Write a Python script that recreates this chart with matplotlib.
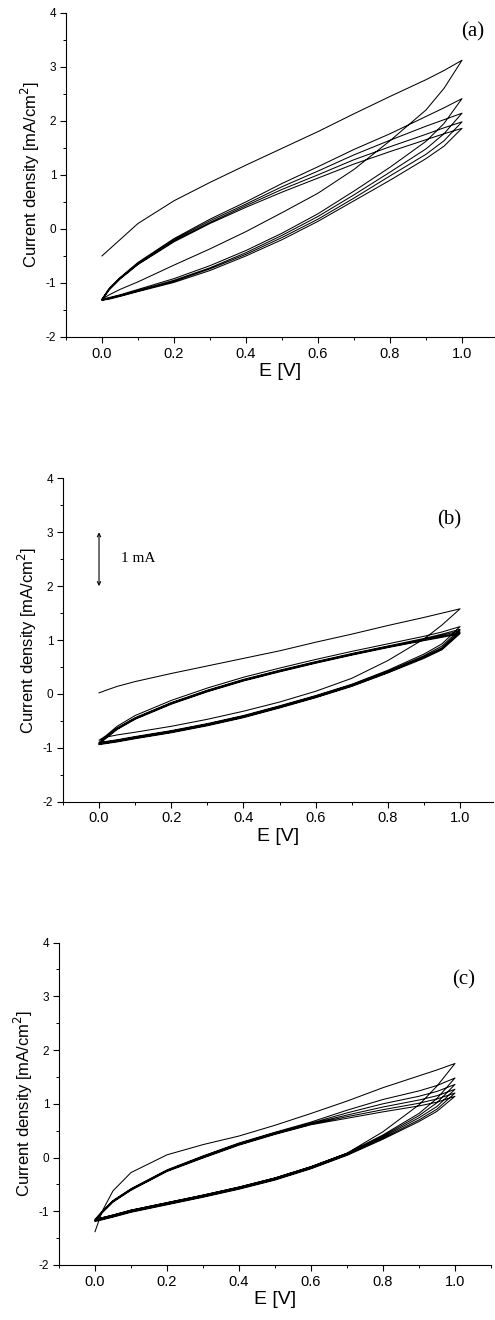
import matplotlib
matplotlib.use("Agg")
import matplotlib.pyplot as plt
from matplotlib.ticker import MultipleLocator, FormatStrFormatter

plt.rcParams['font.family'] = ['Liberation Sans', 'DejaVu Sans']
plt.rcParams['axes.unicode_minus'] = False

# potential grid (V) on which every sweep was read
E_GRID = [0.0, 0.02, 0.05, 0.1, 0.2, 0.3, 0.4, 0.5, 0.6, 0.7, 0.8, 0.9, 0.95, 1.0]

# panel (a): anodic (forward) and cathodic (return) branches, one list per cycle
a_anodic = [
    [-0.5, -0.38, -0.2, 0.1, 0.52, 0.86, 1.18, 1.49, 1.8, 2.13, 2.45, 2.76, 2.93, 3.12],
    [-1.3, -1.1, -0.9, -0.62, -0.18, 0.18, 0.5, 0.84, 1.15, 1.47, 1.76, 2.08, 2.24, 2.41],
    [-1.3, -1.11, -0.91, -0.64, -0.2, 0.15, 0.46, 0.78, 1.07, 1.37, 1.64, 1.9, 2.02, 2.14],
    [-1.31, -1.12, -0.92, -0.65, -0.22, 0.12, 0.43, 0.73, 1.0, 1.28, 1.52, 1.75, 1.87, 1.98],
    [-1.32, -1.13, -0.93, -0.66, -0.24, 0.1, 0.4, 0.68, 0.94, 1.2, 1.43, 1.65, 1.76, 1.86],
]
a_cathodic = [
    [-1.3, -1.22, -1.12, -0.98, -0.67, -0.37, -0.05, 0.3, 0.66, 1.1, 1.63, 2.2, 2.6, 3.12],
    [-1.3, -1.27, -1.22, -1.12, -0.92, -0.68, -0.4, -0.08, 0.28, 0.7, 1.14, 1.62, 1.95, 2.41],
    [-1.31, -1.28, -1.23, -1.14, -0.95, -0.72, -0.44, -0.12, 0.23, 0.63, 1.05, 1.48, 1.76, 2.14],
    [-1.32, -1.29, -1.24, -1.15, -0.97, -0.74, -0.47, -0.16, 0.18, 0.57, 0.98, 1.38, 1.63, 1.98],
    [-1.32, -1.3, -1.25, -1.16, -0.99, -0.77, -0.5, -0.2, 0.14, 0.52, 0.9, 1.3, 1.53, 1.86],
]

# panel (b)
b_anodic = [
    [0.02, 0.07, 0.14, 0.23, 0.38, 0.52, 0.66, 0.8, 0.96, 1.11, 1.27, 1.42, 1.5, 1.58],
    [-0.86, -0.77, -0.6, -0.4, -0.12, 0.11, 0.31, 0.48, 0.64, 0.79, 0.93, 1.07, 1.15, 1.25],
    [-0.9, -0.79, -0.63, -0.44, -0.16, 0.07, 0.27, 0.44, 0.6, 0.75, 0.89, 1.03, 1.11, 1.2],
    [-0.91, -0.8, -0.64, -0.45, -0.17, 0.06, 0.26, 0.43, 0.59, 0.74, 0.88, 1.01, 1.09, 1.17],
    [-0.92, -0.81, -0.65, -0.46, -0.18, 0.05, 0.25, 0.42, 0.58, 0.73, 0.87, 1.0, 1.07, 1.14],
    [-0.93, -0.82, -0.66, -0.47, -0.19, 0.04, 0.24, 0.41, 0.57, 0.72, 0.86, 0.99, 1.05, 1.12],
]
b_cathodic = [
    [-0.86, -0.8, -0.76, -0.71, -0.6, -0.47, -0.32, -0.15, 0.05, 0.29, 0.62, 1.02, 1.28, 1.58],
    [-0.9, -0.88, -0.85, -0.79, -0.68, -0.55, -0.4, -0.22, -0.03, 0.18, 0.44, 0.74, 0.93, 1.25],
    [-0.91, -0.89, -0.86, -0.8, -0.69, -0.56, -0.41, -0.23, -0.04, 0.17, 0.42, 0.71, 0.89, 1.2],
    [-0.92, -0.9, -0.87, -0.81, -0.7, -0.57, -0.42, -0.24, -0.05, 0.16, 0.41, 0.69, 0.86, 1.17],
    [-0.93, -0.91, -0.88, -0.82, -0.71, -0.58, -0.43, -0.25, -0.06, 0.15, 0.4, 0.68, 0.84, 1.14],
    [-0.94, -0.92, -0.89, -0.83, -0.72, -0.59, -0.44, -0.26, -0.07, 0.14, 0.39, 0.66, 0.82, 1.12],
]

# panel (c)
c_anodic = [
    [-1.38, -1.0, -0.62, -0.28, 0.05, 0.24, 0.4, 0.6, 0.82, 1.05, 1.3, 1.52, 1.63, 1.75],
    [-1.15, -1.0, -0.8, -0.58, -0.23, 0.03, 0.27, 0.47, 0.66, 0.88, 1.08, 1.24, 1.34, 1.48],
    [-1.16, -1.01, -0.81, -0.59, -0.24, 0.02, 0.26, 0.46, 0.64, 0.83, 1.0, 1.14, 1.23, 1.36],
    [-1.17, -1.02, -0.82, -0.6, -0.25, 0.01, 0.25, 0.45, 0.63, 0.79, 0.94, 1.07, 1.15, 1.27],
    [-1.17, -1.02, -0.82, -0.6, -0.25, 0.0, 0.24, 0.44, 0.62, 0.76, 0.89, 1.01, 1.09, 1.2],
    [-1.18, -1.03, -0.83, -0.61, -0.26, -0.01, 0.23, 0.43, 0.61, 0.73, 0.85, 0.96, 1.03, 1.14],
]
c_cathodic = [
    [-1.15, -1.12, -1.07, -0.98, -0.84, -0.7, -0.55, -0.38, -0.17, 0.08, 0.48, 0.98, 1.33, 1.75],
    [-1.16, -1.12, -1.07, -0.98, -0.84, -0.7, -0.55, -0.38, -0.17, 0.08, 0.42, 0.82, 1.1, 1.48],
    [-1.17, -1.13, -1.08, -0.99, -0.85, -0.71, -0.56, -0.39, -0.18, 0.07, 0.4, 0.78, 1.02, 1.36],
    [-1.17, -1.14, -1.09, -1.0, -0.86, -0.72, -0.57, -0.4, -0.19, 0.06, 0.38, 0.74, 0.95, 1.27],
    [-1.18, -1.15, -1.1, -1.01, -0.87, -0.73, -0.58, -0.41, -0.2, 0.05, 0.36, 0.7, 0.9, 1.2],
    [-1.19, -1.16, -1.11, -1.02, -0.88, -0.74, -0.59, -0.42, -0.21, 0.04, 0.34, 0.67, 0.86, 1.14],
]

panel_labels = ["(a)", "(b)", "(c)"]


def sweep(anodic, cathodic):
    xs, ys = [], []
    for up, down in zip(anodic, cathodic):
        xs += E_GRID + E_GRID[::-1]
        ys += up + down[::-1]
    return xs, ys


def style_axes(ax, xmax):
    ax.set_xlim(-0.1, xmax)
    ax.set_ylim(-2, 4)
    ax.spines['top'].set_visible(False)
    ax.spines['right'].set_visible(False)
    ax.xaxis.set_major_locator(MultipleLocator(0.2))
    ax.xaxis.set_minor_locator(MultipleLocator(0.1))
    ax.yaxis.set_major_locator(MultipleLocator(1))
    ax.yaxis.set_minor_locator(MultipleLocator(0.5))
    ax.xaxis.set_major_formatter(FormatStrFormatter('%.1f'))
    ax.tick_params(which='major', direction='out', length=4, width=0.8)
    ax.tick_params(which='minor', direction='out', length=2.5, width=0.7)
    ax.tick_params(axis='x', labelsize=10.5, pad=3)
    ax.tick_params(axis='y', labelsize=8.5, pad=3)
    ax.set_xticks([0.0, 0.2, 0.4, 0.6, 0.8, 1.0])
    ax.set_xlabel("E [V]", fontsize=14, labelpad=2)
    ax.set_ylabel("Current density [mA/cm$^2$]", fontsize=12, labelpad=3)


fig = plt.figure(figsize=(4.95, 13.2), dpi=100)
ax_a = fig.add_axes([0.1333, 0.7447, 0.8655, 0.2457])
ax_b = fig.add_axes([0.1271, 0.3926, 0.868, 0.245])
ax_c = fig.add_axes([0.1192, 0.0417, 0.8727, 0.2442])

data = [(a_anodic, a_cathodic), (b_anodic, b_cathodic), (c_anodic, c_cathodic)]
label_pos = [(1.03, 3.65), (0.97, 3.23), (1.025, 3.3)]
xmaxes = [1.09, 1.09, 1.1]

for ax, (up, down), lab, pos, xm in zip([ax_a, ax_b, ax_c], data, panel_labels, label_pos, xmaxes):
    x, y = sweep(up, down)
    ax.plot(x, y, color='black', lw=0.75)
    style_axes(ax, xm)
    ax.text(pos[0], pos[1], lab, ha='center', va='center', fontsize=15,
            family=['Liberation Serif', 'DejaVu Serif'])

# scale bar in panel (b)
ax_b.annotate("", xy=(0.0, 2.0), xytext=(0.0, 3.0),
              arrowprops=dict(arrowstyle='<->', lw=0.8, color='black',
                              mutation_scale=6, shrinkA=0, shrinkB=0))
ax_b.text(0.06, 2.52, "1 mA", ha='left', va='center', fontsize=11,
          family=['Liberation Serif', 'DejaVu Serif'])

fig.savefig("out.png", dpi=100)
